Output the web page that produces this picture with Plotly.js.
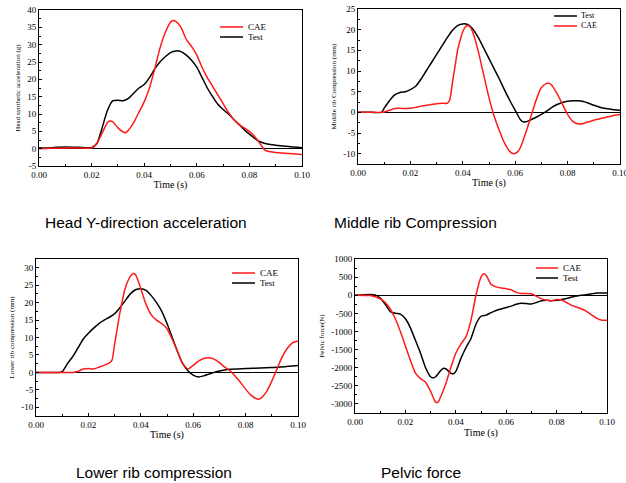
<!DOCTYPE html>
<html>
<head>
<meta charset="utf-8">
<script src="https://cdn.plot.ly/plotly-3.0.1.min.js"></script>
<style>html,body{margin:0;padding:0;background:#fff;}#chart{width:626px;height:483px;}</style>
</head>
<body>
<div id="chart"></div>
<script>
// ---------- Data ----------
const headT   = [0,0.005,0.01,0.015,0.02,0.022,0.024,0.026,0.028,0.030,0.032,0.034,0.036,0.038,0.040,0.042,0.044,0.046,0.048,0.050,0.052,0.054,0.056,0.058,0.060,0.062,0.064,0.066,0.068,0.070,0.072,0.074,0.076,0.078,0.080,0.082,0.084,0.086,0.088,0.090,0.095,0.100];
const headTest= [0.2,0.3,0.5,0.4,0.3,1.5,6,11,13.8,14,13.8,14.5,16,17.5,18.5,20.5,23,25,26.5,27.7,28.2,28,27,25.5,23.5,20.5,17.5,15,12.8,11.3,10,8.5,7,5.5,4.2,3,2,1.5,1.2,1,0.6,0.3];
const headCaeT= [0,0.005,0.01,0.015,0.02,0.022,0.024,0.026,0.027,0.028,0.030,0.032,0.033,0.034,0.036,0.038,0.040,0.042,0.044,0.046,0.048,0.050,0.051,0.052,0.054,0.056,0.058,0.060,0.062,0.064,0.066,0.068,0.070,0.072,0.074,0.076,0.078,0.080,0.082,0.084,0.086,0.088,0.090,0.095,0.100];
const headCae = [0,0.1,0.2,0.2,0.2,1.5,4.5,7.5,8,7.8,6,4.8,4.6,5.3,7.5,10.5,13.5,17.5,23,29,33.5,36.5,37,36.7,35,31.5,29.5,27,23.5,20.5,18,15.5,13,10.5,8.5,7,6,5,3.5,1.5,-0.5,-0.9,-1.1,-1.4,-1.7];

const midT    = [0,0.005,0.009,0.010,0.012,0.014,0.016,0.018,0.020,0.022,0.024,0.026,0.028,0.030,0.032,0.034,0.036,0.038,0.040,0.042,0.044,0.046,0.048,0.050,0.052,0.054,0.056,0.058,0.060,0.062,0.063,0.064,0.066,0.068,0.070,0.072,0.074,0.076,0.078,0.080,0.082,0.084,0.086,0.088,0.090,0.092,0.094,0.096,0.098,0.100];
const midTest = [0,0,0,1,2.8,4.2,4.8,5.0,5.5,6.3,8,10,12,14,16,18,19.8,21,21.4,21.2,20,18,15.5,13,10.5,8,5.3,2.8,0.5,-1.8,-2.3,-2.3,-1.8,-1.2,-0.5,0.3,1.2,1.9,2.4,2.7,2.8,2.8,2.6,2.2,1.7,1.3,1.0,0.8,0.6,0.5];
const midCaeT = [0,0.005,0.009,0.010,0.012,0.014,0.016,0.018,0.020,0.022,0.024,0.026,0.028,0.030,0.032,0.034,0.035,0.036,0.037,0.038,0.039,0.040,0.041,0.042,0.043,0.044,0.046,0.048,0.050,0.052,0.054,0.056,0.058,0.0595,0.061,0.062,0.064,0.066,0.068,0.070,0.072,0.073,0.074,0.076,0.078,0.080,0.082,0.084,0.086,0.088,0.090,0.092,0.094,0.096,0.098,0.100];
const midCae  = [0,0,0,0.1,0.5,0.9,1.0,0.9,1.0,1.2,1.5,1.7,1.9,2.1,2.2,2.2,3,7,11,15,17.5,19.5,20.7,21,20.5,19,14.5,9,3.5,-1,-4.5,-7.5,-9.5,-10,-9.5,-8.5,-5,-1,3,6,7,7,6.5,4.5,2,-0.5,-2.2,-2.8,-2.7,-2.3,-1.9,-1.6,-1.3,-1.0,-0.7,-0.5];

const lowT    = [0,0.005,0.009,0.010,0.012,0.014,0.016,0.018,0.020,0.022,0.024,0.026,0.028,0.030,0.032,0.034,0.036,0.038,0.040,0.042,0.044,0.046,0.048,0.050,0.052,0.054,0.056,0.058,0.060,0.062,0.064,0.066,0.068,0.070,0.072,0.074,0.080,0.090,0.100];
const lowTest = [0,0,0,0.2,2.5,4.5,7,9.5,11.2,12.7,14,15,15.8,16.8,18.5,20.5,22.5,23.7,24,23.5,22,20,17.5,14,10,6,2.5,0.5,-0.8,-1.3,-1.0,-0.5,0,0.4,0.7,0.9,1.1,1.4,2.0];
const lowCaeT = [0,0.005,0.010,0.014,0.016,0.018,0.020,0.022,0.024,0.026,0.028,0.029,0.030,0.032,0.034,0.036,0.037,0.038,0.040,0.042,0.044,0.046,0.048,0.050,0.052,0.054,0.056,0.058,0.060,0.062,0.064,0.066,0.068,0.070,0.072,0.074,0.076,0.078,0.080,0.082,0.084,0.085,0.086,0.088,0.090,0.092,0.094,0.096,0.098,0.100];
const lowCae  = [0,0,0,0,0.3,1.0,1.1,1.0,1.5,2.0,2.7,3.5,8,17,24,27.5,28.3,28,24,19.5,16.5,15,14,12.5,9.5,6,2.5,1.0,2.0,3.2,4,4.2,3.8,2.8,1.5,0.5,-1,-2.8,-4.8,-6.5,-7.5,-7.7,-7.3,-5.5,-2.5,1,4.5,7,8.5,9];

const pelT    = [0,0.006,0.008,0.010,0.012,0.014,0.016,0.018,0.020,0.022,0.024,0.026,0.028,0.030,0.031,0.032,0.034,0.035,0.036,0.038,0.039,0.040,0.042,0.044,0.046,0.048,0.050,0.052,0.054,0.056,0.058,0.060,0.062,0.064,0.066,0.068,0.070,0.072,0.074,0.076,0.078,0.080,0.082,0.084,0.086,0.088,0.090,0.092,0.094,0.096,0.100];
const pelTest = [0,20,10,-80,-250,-450,-500,-520,-650,-900,-1250,-1600,-2000,-2250,-2280,-2250,-2080,-2020,-2030,-2150,-2170,-2100,-1750,-1450,-1200,-800,-580,-550,-480,-420,-380,-340,-300,-250,-220,-230,-240,-200,-150,-140,-150,-140,-120,-90,-50,-20,0,20,40,60,60];
const pelCaeT = [0,0.006,0.008,0.010,0.012,0.014,0.016,0.018,0.020,0.022,0.024,0.026,0.028,0.030,0.032,0.033,0.034,0.036,0.038,0.040,0.042,0.044,0.046,0.048,0.050,0.051,0.052,0.054,0.056,0.058,0.060,0.062,0.064,0.066,0.068,0.070,0.072,0.074,0.076,0.078,0.080,0.082,0.084,0.086,0.088,0.090,0.092,0.094,0.096,0.098,0.100];
const pelCae  = [0,-10,-40,-100,-200,-380,-650,-1000,-1400,-1800,-2150,-2300,-2400,-2650,-2950,-2950,-2800,-2450,-2000,-1600,-1350,-1150,-700,0,500,590,550,300,230,200,180,150,80,50,50,40,-30,-100,-140,-150,-120,-130,-200,-280,-330,-380,-450,-550,-640,-690,-690];

// tick labels
const timeTicks   = [0,0.02,0.04,0.06,0.08,0.10];
const timeLabels  = ["0.00","0.02","0.04","0.06","0.08","0.10"];
const headTicks   = [-5,0,5,10,15,20,25,30,35,40];
const headLabels  = ["-5","0","5","10","15","20","25","30","35","40"];
const midTicks    = [-10,-5,0,5,10,15,20,25];
const midLabels   = ["-10","-5","0","5","10","15","20","25"];
const lowTicks    = [-10,-5,0,5,10,15,20,25,30];
const lowLabels   = ["-10","-5","0","5","10","15","20","25","30"];
const pelTicks    = [-3000,-2500,-2000,-1500,-1000,-500,0,500,1000];
const pelLabels   = ["-3000","-2500","-2000","-1500","-1000","-500","0","500","1000"];

const captions = ["Head Y-direction acceleration","Middle rib Compression","Lower rib compression","Pelvic force"];
const yTitles  = ["Head synthetic acceleration (g)","Middle rib Compression (mm)","Lower rib compression (mm)","Pelvic force(N)"];

// ---------- Styling ----------
const W = 626, H = 483;
const RED = "#ff1a1a", BLACK = "#000000";
const SERIF = "Liberation Serif, Times New Roman, serif";
const px = v => v / W, py = v => 1 - v / H;

function line(x, y, color, xa, ya) {
  return {x: x, y: y, type: "scatter", mode: "lines", xaxis: xa, yaxis: ya,
          line: {color: color, width: 1.5, shape: "spline", smoothing: 0.6},
          showlegend: false, hoverinfo: "skip"};
}

const traces = [
  line(headT, headTest, BLACK, "x", "y"),
  line(headCaeT, headCae, RED, "x", "y"),
  line(midT, midTest, BLACK, "x2", "y2"),
  line(midCaeT, midCae, RED, "x2", "y2"),
  line(lowT, lowTest, BLACK, "x3", "y3"),
  line(lowCaeT, lowCae, RED, "x3", "y3"),
  line(pelT, pelTest, BLACK, "x4", "y4"),
  line(pelCaeT, pelCae, RED, "x4", "y4")
];

function xAxis(domain, anchor) {
  return {domain: domain, anchor: anchor, range: [0, 0.1], tickvals: timeTicks, ticktext: timeLabels,
    ticks: "inside", ticklen: 3, tickcolor: "#000", showline: true, mirror: true, linecolor: "#000", linewidth: 1,
    showgrid: false, zeroline: false, tickfont: {family: SERIF, size: 9, color: "#000"},
    ticklabeloverflow: "allow",
    minor: {ticks: "inside", ticklen: 2, dtick: 0.01, tickcolor: "#000", showgrid: false},
    title: {text: "Time (s)", font: {family: SERIF, size: 10, color: "#000"}, standoff: 2}};
}
function yAxis(domain, anchor, range, tv, tt, minorD, title) {
  return {domain: domain, anchor: anchor, range: range, tickvals: tv, ticktext: tt,
    ticks: "inside", ticklen: 3, tickcolor: "#000", showline: true, mirror: true, linecolor: "#000", linewidth: 1,
    showgrid: false, zeroline: true, zerolinecolor: "#000", zerolinewidth: 1,
    tickfont: {family: SERIF, size: 9, color: "#000"},
    minor: {ticks: "inside", ticklen: 2, dtick: minorD, tickcolor: "#000", showgrid: false},
    title: {text: title, font: {family: SERIF, size: 7, color: "#000"}, standoff: 5}};
}

// legend definitions (order top-to-bottom)
const legends = [
  {x0: 220, x1: 243, tx: 246, ys: [27, 37], fs: 9, items: [["CAE", RED], ["Test", BLACK]]},
  {x0: 554, x1: 577, tx: 579, ys: [16, 26], fs: 8, items: [["Test", BLACK], ["CAE", RED]]},
  {x0: 232, x1: 255, tx: 258, ys: [273, 283], fs: 9, items: [["CAE", RED], ["Test", BLACK]]},
  {x0: 536, x1: 558, tx: 561, ys: [268, 278], fs: 9, items: [["CAE", RED], ["Test", BLACK]]}
];
const shapes = [], annotations = [];
legends.forEach(L => {
  L.items.forEach((it, i) => {
    shapes.push({type: "line", xref: "paper", yref: "paper", x0: px(L.x0), x1: px(L.x1), y0: py(L.ys[i]), y1: py(L.ys[i]),
                 line: {color: it[1], width: 1.5}});
    annotations.push({xref: "paper", yref: "paper", x: px(L.tx), y: py(L.ys[i]), xanchor: "left", yanchor: "middle",
                      text: it[0], showarrow: false, font: {family: SERIF, size: L.fs, color: "#000"}});
  });
});
const capPos = [[146, 222], [415, 222], [154, 472], [421, 472]];
captions.forEach((c, i) => {
  annotations.push({xref: "paper", yref: "paper", x: px(capPos[i][0]), y: py(capPos[i][1]), xanchor: "center", yanchor: "middle",
                    text: c, showarrow: false, font: {family: "Liberation Sans, Arial, sans-serif", size: 15.5, color: "#000"}});
});

const layout = {
  width: W, height: H, margin: {l: 0, r: 0, t: 0, b: 0}, paper_bgcolor: "#fff", plot_bgcolor: "#fff",
  showlegend: false,
  xaxis:  xAxis([px(39), px(302)], "y"),
  yaxis:  yAxis([py(166), py(10)], "x", [-5, 40], headTicks, headLabels, 2.5, yTitles[0]),
  xaxis2: xAxis([px(358), px(620)], "y2"),
  yaxis2: yAxis([py(164), py(9)], "x2", [-12.5, 25], midTicks, midLabels, 2.5, yTitles[1]),
  xaxis3: xAxis([px(36), px(298)], "y3"),
  yaxis3: yAxis([py(416), py(259)], "x3", [-12.5, 32.5], lowTicks, lowLabels, 2.5, yTitles[2]),
  xaxis4: xAxis([px(355), px(607)], "y4"),
  yaxis4: yAxis([py(413), py(259)], "x4", [-3250, 1000], pelTicks, pelLabels, 250, yTitles[3]),
  shapes: shapes, annotations: annotations
};

Plotly.newPlot("chart", traces, layout, {staticPlot: true, displayModeBar: false});
</script>
</body>
</html>
